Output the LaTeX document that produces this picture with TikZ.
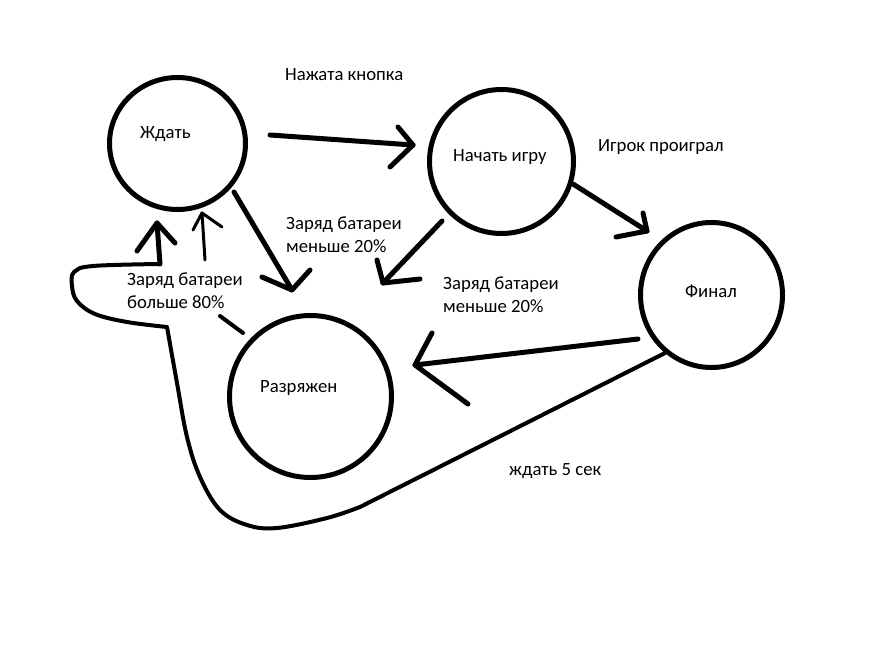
\documentclass[tikz,border=0pt]{standalone}
\usepackage{fontspec}
\setmainfont{Carlito}
\usetikzlibrary{shapes.geometric}
\begin{document}
\begin{tikzpicture}[x=1pt,y=-1pt,
  stroke/.style={line width=5pt, line cap=round, line join=round},
  loopstroke/.style={line width=4pt, line cap=round, line join=round},
  thinstroke/.style={line width=3pt, line cap=round, line join=round},
  state/.style={draw, ellipse, line width=5pt, inner sep=0pt},
  lbl/.style={font=\fontsize{18.7}{22.5}\selectfont, anchor=base west, inner sep=0pt, align=left}]
\useasboundingbox (0,0) rectangle (872,655);
\fill[white] (0,0) rectangle (872,655);

% states
\node[state, minimum width=136, minimum height=132] (wait)  at (177.5,143.5) {};
\node[state, minimum width=144, minimum height=144] (start) at (501.5,161.5) {};
\node[state, minimum width=142, minimum height=145] (final) at (711.5,295) {};
\node[state, minimum width=162, minimum height=162] (empty) at (310.5,396.5) {};

% state texts
\node[lbl] (twait)  at (140,139) {Ждать};
\node[lbl] (tstart) at (453,162) {Начать игру};
\node[lbl] (tfinal) at (685,297) {Финал};
\node[lbl] (tempty) at (260,392) {Разряжен};

% edge labels (base = baseline of the last line)
\node[lbl] (lpress) at (285,81) {Нажата кнопка};
\node[lbl] (llost)  at (598,152) {Игрок проиграл};
\node[lbl] (llow1)  at (286,252) {Заряд батареи\\меньше 20\%};
\node[lbl] (lhigh)  at (127,308) {Заряд батареи\\больше 80\%};
\node[lbl] (llow2)  at (443,312) {Заряд батареи\\меньше 20\%};
\node[lbl] (lwait5) at (509,475) {ждать 5 сек};

% arrow coordinates
\coordinate (a1s) at (270,135); \coordinate (a1t) at (413,145);
\coordinate (a1l) at (398,127); \coordinate (a1r) at (390,167);
\coordinate (a2s) at (573,184); \coordinate (a2t) at (647,231);
\coordinate (a2l) at (643,213); \coordinate (a2r) at (616,237);
\coordinate (a3s) at (442,221); \coordinate (a3t) at (383,283);
\coordinate (a3l) at (377,260); \coordinate (a3r) at (420,279);
\coordinate (a4s) at (638,339); \coordinate (a4t) at (415,365);
\coordinate (a4l) at (432,333); \coordinate (a4r) at (468,404);
\coordinate (a5s) at (234,192); \coordinate (a5t) at (292,290);
\coordinate (a5l) at (262,277); \coordinate (a5r) at (310,270);
\coordinate (a6s) at (160,264); \coordinate (a6t) at (157,223);
\coordinate (a6l) at (137,251); \coordinate (a6r) at (175,243);
\coordinate (a7s) at (205,260); \coordinate (a7t) at (202,213);
\coordinate (a7l) at (193,230); \coordinate (a7r) at (222,227);
\coordinate (loopend) at (665,353);
\coordinate (dashs) at (220,316); \coordinate (dasht) at (243,333);

% Ждать -> Начать игру
\draw[stroke] (a1s) -- (a1t);
\draw[stroke] (a1l) -- (a1t) -- (a1r);
% Начать игру -> Финал
\draw[stroke] (a2s) -- (a2t);
\draw[stroke] (a2l) -- (a2t) -- (a2r);
% Начать игру -> Разряжен
\draw[stroke] (a3s) -- (a3t);
\draw[stroke] (a3l) -- (a3t) -- (a3r);
% Финал -> Разряжен
\draw[stroke] (a4s) -- (a4t);
\draw[stroke] (a4l) -- (a4t) -- (a4r);
% Ждать -> Разряжен
\draw[stroke] (a5s) -- (a5t);
\draw[stroke] (a5l) -- (a5t) -- (a5r);
% Финал -> Ждать (loop)
\draw[loopstroke] (loopend) -- (360,507)
  plot[smooth, tension=0.6] coordinates {(360,507) (327,518) (277,528) (247,525) (220,510) (200,477) (187,437) (177,383) (167,327)}
  plot[smooth, tension=0.6] coordinates {(167,327) (127,322) (95,314) (77,301) (72,286) (74,272) (93,266) (160,264)};
\draw[stroke] (a6s) -- (a6t);
\draw[stroke] (a6l) -- (a6t) -- (a6r);
% Разряжен -> Ждать
\draw[thinstroke] (a7s) -- (a7t);
\draw[thinstroke] (a7l) -- (a7t) -- (a7r);
% stray stroke
\draw[loopstroke] (dashs) -- (dasht);
\end{tikzpicture}
\end{document}
